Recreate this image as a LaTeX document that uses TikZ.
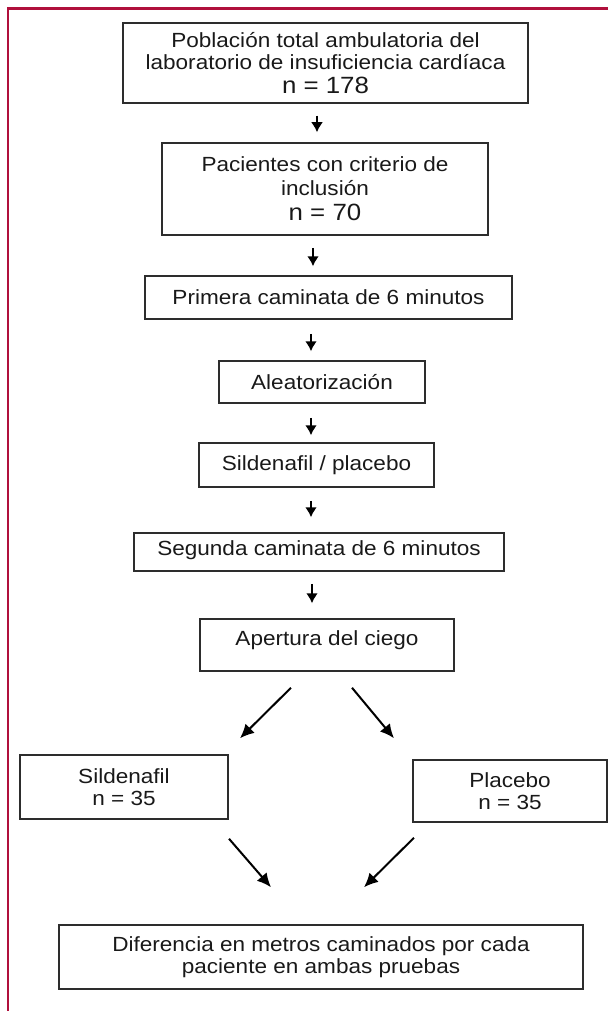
\documentclass[tikz,border=0pt]{standalone}
\usepackage{fontspec}
\setmainfont{Liberation Sans}[FakeStretch=1.1]
\usetikzlibrary{arrows.meta}
\definecolor{frame}{RGB}{176,16,60}
\definecolor{boxline}{RGB}{45,45,45}

\begin{document}
\begin{tikzpicture}[x=1pt,y=-1pt]
\tikzstyle{every node}=[draw=boxline, line width=1.5pt, align=center, inner sep=2pt, text=black!90, font=\fontsize{20.5}{22}\selectfont]
\tikzstyle{arr}=[line width=2pt, -{Latex[length=10pt,width=12pt]}]
\tikzstyle{darr}=[line width=2pt, -{Latex[length=14pt,width=13pt]}]
\newcommand{\bign}[1]{{\fontsize{23.5}{25}\selectfont #1}}
\useasboundingbox (0,0) rectangle (608,1011);
\draw[frame, line width=2.5pt] (608,8.5) -- (8,8.5) -- (8,1011);
\draw (325.5,63) node (b1) [minimum width=405pt, minimum height=80pt] {Población total ambulatoria del\\laboratorio de insuficiencia cardíaca\\[2pt]\bign{n = 178}};
\draw (325,189) node (b2) [minimum width=326pt, minimum height=92pt] {Pacientes con criterio de\\[2pt]inclusión\\[3pt]\bign{n = 70}};
\draw (328.5,297.5) node (b3) [minimum width=367pt, minimum height=43pt] {Primera caminata de 6 minutos};
\draw (322,382) node (b4) [minimum width=206pt, minimum height=42pt] {Aleatorización};
\draw (316.5,465) node (b5) [minimum width=235pt, minimum height=44pt] {Sildenafil / placebo};
\draw (319,552) node (b6) [minimum width=370pt, minimum height=38pt, text depth=8pt] {Segunda caminata de 6 minutos};
\draw (327,645) node (b7) [minimum width=254pt, minimum height=52pt, text depth=13pt] {Apertura del ciego};
\draw (124,787) node (sil) [minimum width=208pt, minimum height=64pt] {Sildenafil\\n = 35};
\draw (510,791) node (pla) [minimum width=194pt, minimum height=62pt] {Placebo\\n = 35};
\draw (321,957) node (dif) [minimum width=524pt, minimum height=64pt] {Diferencia en metros caminados por cada\\paciente en ambas pruebas};
\draw[arr, shorten <=12pt, shorten >=10pt] ([xshift=-8.5pt]b1.south) -- ([xshift=-8.5pt]b1.south |- b2.north);
\draw[arr, shorten <=12pt, shorten >=9pt] ([xshift=-12pt]b2.south) -- ([xshift=-12pt]b2.south |- b3.north);
\draw[arr, shorten <=14pt, shorten >=9pt] ([xshift=-17.5pt]b3.south) -- ([xshift=-17.5pt]b3.south |- b4.north);
\draw[arr, shorten <=14pt, shorten >=7pt] ([xshift=-11pt]b4.south) -- ([xshift=-11pt]b4.south |- b5.north);
\draw[arr, shorten <=13pt, shorten >=15pt] ([xshift=-5.5pt]b5.south) -- ([xshift=-5.5pt]b5.south |- b6.north);
\draw[arr, shorten <=12pt, shorten >=15pt] ([xshift=-7pt]b6.south) -- ([xshift=-7pt]b6.south |- b7.north);
\draw[darr] ([shift={(-36,16)}]b7.south) -- ([shift={(116,-16)}]sil.north);
\draw[darr] ([shift={(25,16)}]b7.south) -- ([shift={(-116,-21)}]pla.north);
\draw[darr] ([shift={(105,19)}]sil.south) -- ([shift={(-50,-37)}]dif.north);
\draw[darr] ([shift={(-96,15)}]pla.south) -- ([shift={(43,-37)}]dif.north);
\end{tikzpicture}
\end{document}
